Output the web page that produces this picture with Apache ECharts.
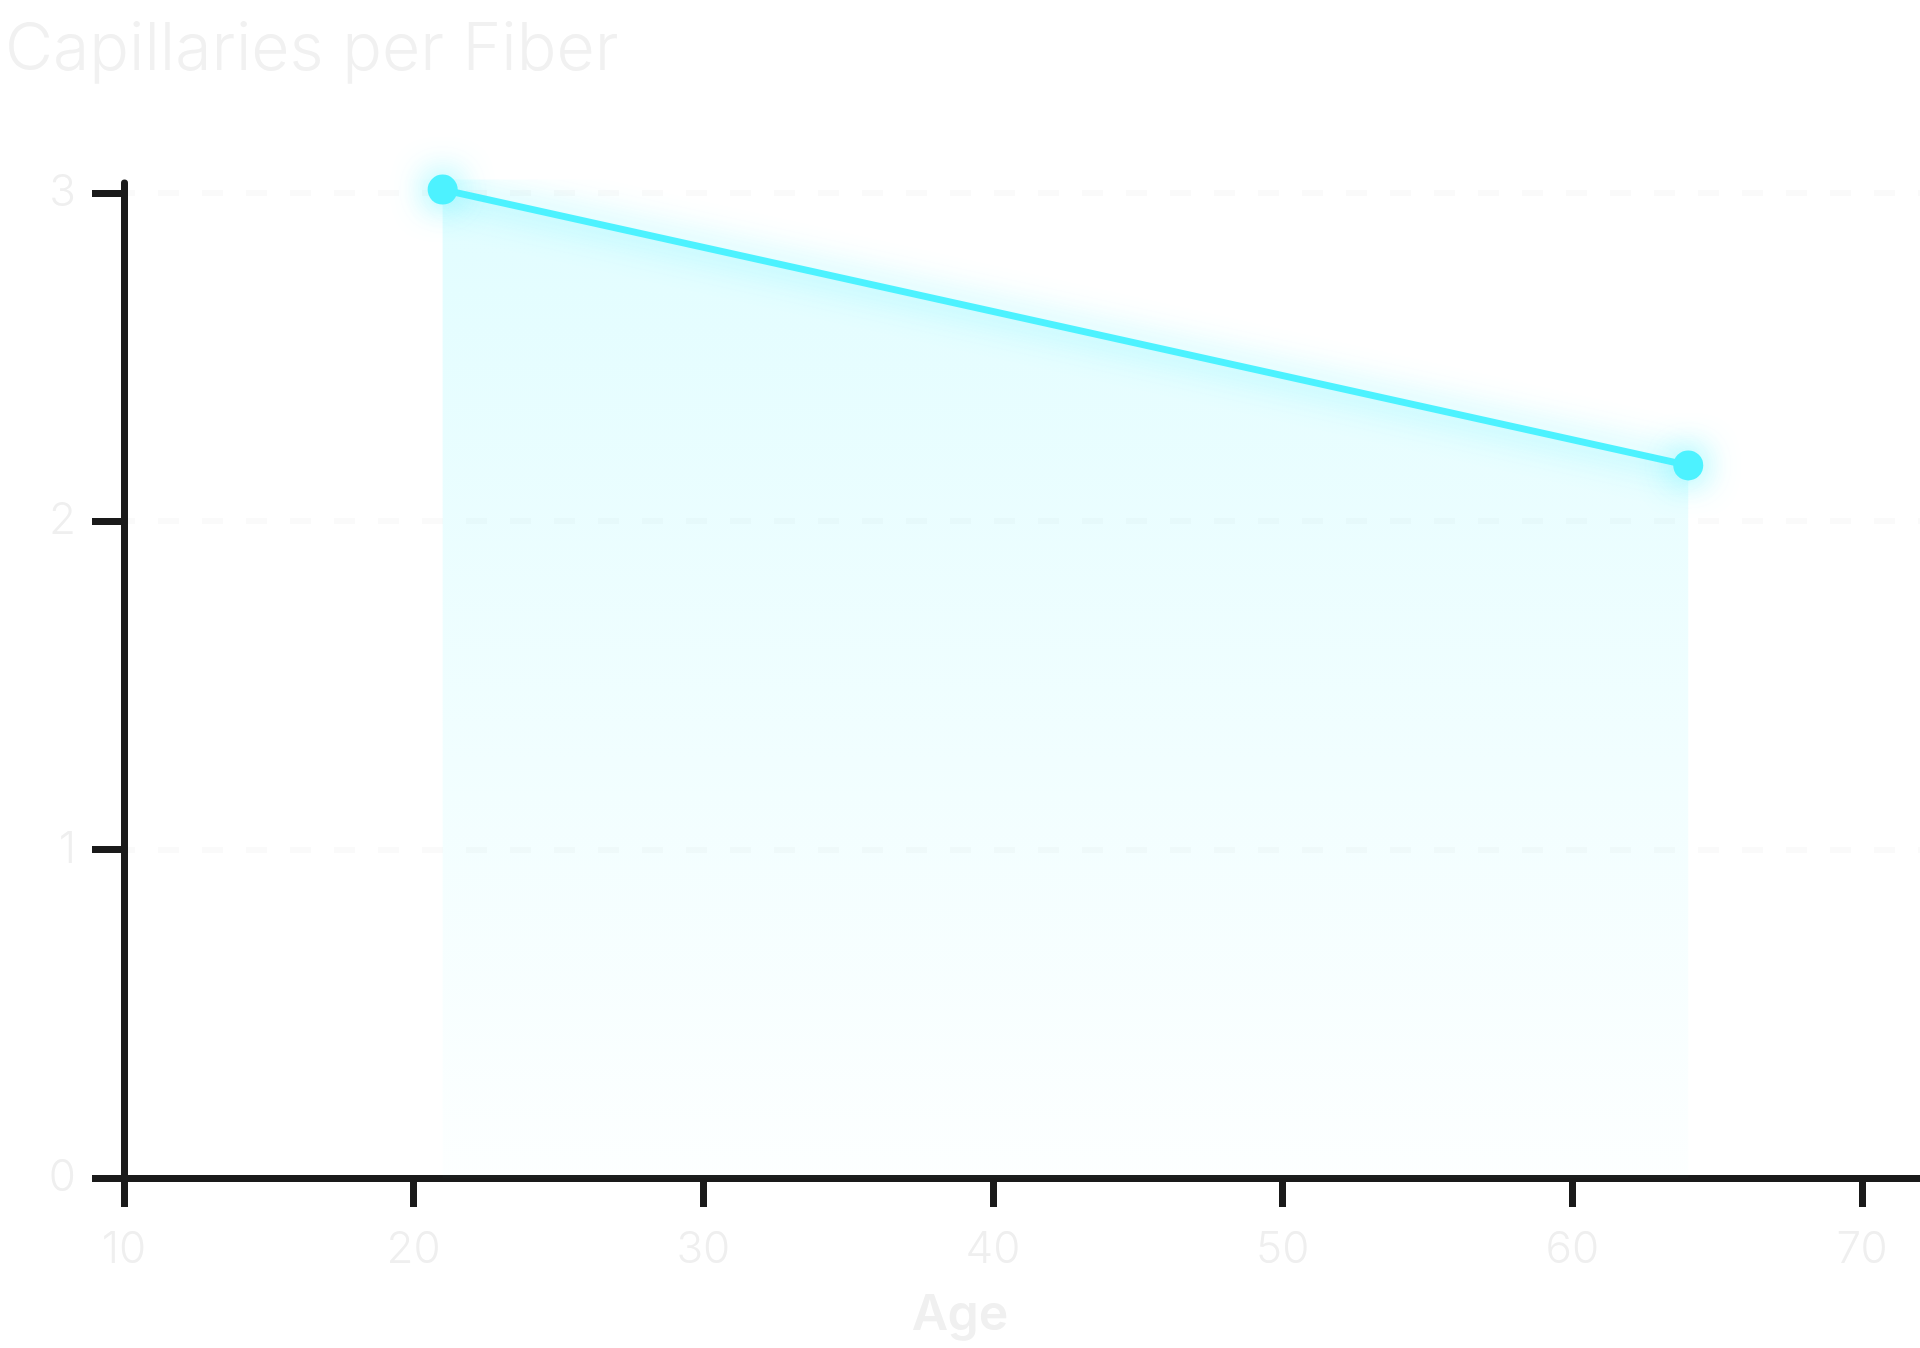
<!DOCTYPE html>
<html>
<head>
<meta charset="utf-8">
<script src="https://cdn.jsdelivr.net/npm/echarts@6/dist/echarts.min.js"></script>
<style>html,body{margin:0;padding:0;background:#fff}#c{width:1920px;height:1348px}</style>
</head>
<body>
<div id="c"></div>
<script>
const ages = [21, 64];
const capillaries = [3.01, 2.17];
const xTicks = [10, 20, 30, 40, 50, 60, 70];
const yTicks = [0, 1, 2, 3];

const FONT = 'Inter';
const chart = echarts.init(document.getElementById('c'));
chart.setOption({
  backgroundColor: '#ffffff',
  animation: false,
  title: [{
    text: 'Capillaries per Fiber',
    left: 0, top: 12,
    textStyle: {fontFamily: FONT, fontWeight: 300, fontSize: 66, color: '#f1f1f1'}
  }, {
    text: 'Age',
    left: 'center', top: 1285,
    textStyle: {fontFamily: FONT, fontWeight: 600, fontSize: 50, color: '#f0f0f0'}
  }],
  grid: {left: 124, right: 0, top: 183, bottom: 170, containLabel: false},
  xAxis: {
    type: 'value', min: 10, max: 72,
    axisLine: {show: true, lineStyle: {color: '#1a1a1a', width: 7}},
    axisTick: {show: true, length: 29, lineStyle: {color: '#1a1a1a', width: 7}, customValues: xTicks},
    axisLabel: {customValues: xTicks, margin: 50, fontFamily: FONT, fontWeight: 300, fontSize: 44, color: '#efefef'},
    splitLine: {show: false}
  },
  yAxis: {
    type: 'value', min: 0, max: 3.03,
    axisLine: {show: true, lineStyle: {color: '#1a1a1a', width: 7}},
    axisTick: {show: true, length: 32, lineStyle: {color: '#1a1a1a', width: 7}, customValues: yTicks},
    axisLabel: {customValues: yTicks, margin: 48, fontFamily: FONT, fontWeight: 300, fontSize: 44, color: '#efefef'},
    splitLine: {show: true, showMinLine: false, showMaxLine: true,
      lineStyle: {color: '#fafafa', width: 6, type: [21, 23], dashOffset: -34}}
  },
  series: [{
    type: 'line',
    data: ages.map((a, i) => [a, capillaries[i]]),
    symbol: 'circle', symbolSize: 30,
    itemStyle: {color: '#4df2ff', shadowBlur: 34, shadowColor: 'rgba(77,242,255,0.85)'},
    lineStyle: {color: '#4df2ff', width: 7, shadowBlur: 34, shadowColor: 'rgba(77,242,255,0.85)'},
    areaStyle: {
      color: new echarts.graphic.LinearGradient(0, 0, 0, 1, [
        {offset: 0, color: 'rgba(77,242,255,0.24)'},
        {offset: 1, color: 'rgba(77,242,255,0.02)'}
      ])
    }
  }]
});
</script>
</body>
</html>
